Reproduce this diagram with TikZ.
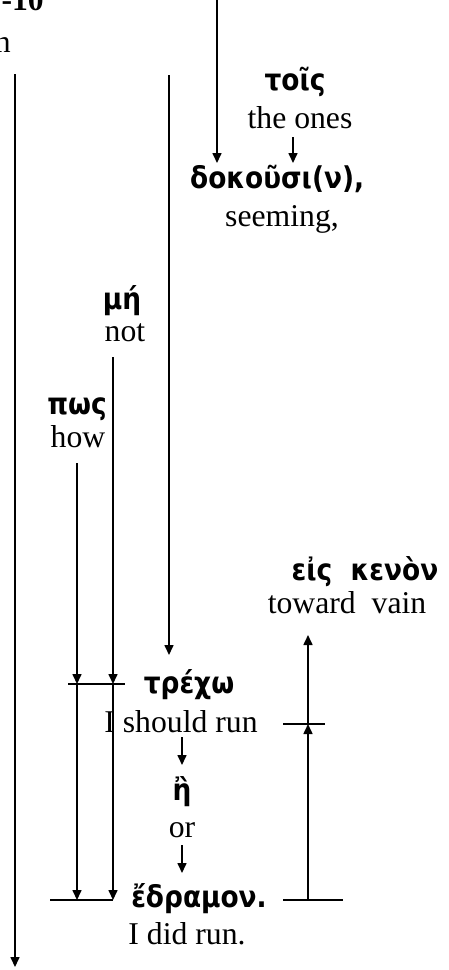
\documentclass[tikz,border=0pt]{standalone}
\usepackage{fontspec}
\setmainfont{Liberation Serif}
\newfontfamily\greekfont[FakeStretch=0.88]{DejaVu Sans}
\usetikzlibrary{arrows.meta,calc,positioning}

\tikzset{
    greek/.style={font=\greekfont\bfseries\fontsize{30}{34}\selectfont, anchor=base, inner sep=0pt},
    gloss/.style={font=\fontsize{31.7}{36}\selectfont, anchor=base, inner sep=0pt},
    arr/.style={-{Triangle[length=10pt,width=9pt]}, line width=1.6pt},
    bar/.style={line width=1.6pt},
}

\begin{document}
\begin{tikzpicture}[x=1pt,y=-1pt]
    \useasboundingbox (0,0) rectangle (449,970);

    % verse reference, cut at the top left
    \node[gloss,anchor=base east] (ref) at (44,10) {\bfseries -10};
    \node[gloss,anchor=base east] (refN) at (11,52) {n};

    % words
    \node[greek] (tois) at (295,90) {τοῖς};
    \node[gloss] (toisG) at (300,128) {the ones};
    \node[greek,anchor=base west] (dokousi) at (190,188) {δοκοῦσι(ν),};
    \node[gloss] (dokousiG) at (282,226) {seeming,};
    \node[greek] (mh) at (122,309) {μή};
    \node[gloss] (mhG) at (125,341) {not};
    \node[greek] (pws) at (77,414) {πως};
    \node[gloss] (pwsG) at (78,447) {how};
    \node[greek] (eis) at (365,580) {εἰς\ \ κενὸν};
    \node[gloss] (eisG) at (347,613) {toward\ \ vain};
    \node[greek] (trecho) at (189,693) {τρέχω};
    \node[gloss] (trechoG) at (181,732) {I should run};
    \node[greek] (eta) at (182,800) {ἢ};
    \node[gloss] (etaG) at (182,837) {or};
    \node[greek] (edramon) at (199,907) {ἔδραμον.};
    \node[gloss] (edramonG) at (187,944) {I did run.};

    % line ends
    \coordinate (topIn) at (217,0);
    \coordinate (dokIn) at (217,163);
    \coordinate (toisOut) at (293,137);
    \coordinate (toisIn) at (293,163);
    \coordinate (longTop) at (169,75);
    \coordinate (trechoIn) at (169,655);
    \coordinate (leftTop) at (15,74);
    \coordinate (leftEnd) at (15,967);
    \coordinate (mhTop) at (113,357);
    \coordinate (pwsTop) at (77,463);
    \coordinate (runOut) at (182,737);
    \coordinate (etaIn) at (182,765);
    \coordinate (orOut) at (182,845);
    \coordinate (edIn) at (182,873);

    \pgfmathsetmacro{\yTr}{684}
    \pgfmathsetmacro{\yEd}{900}
    \pgfmathsetmacro{\yRun}{724}
    \pgfmathsetmacro{\xEis}{308}

    \draw[arr] (topIn) -- (dokIn);
    \draw[arr] (toisOut) -- (toisIn);
    \draw[arr] (longTop) -- (trechoIn);
    \draw[arr] (leftTop) -- (leftEnd);
    \draw[arr] (runOut) -- (etaIn);
    \draw[arr] (orOut) -- (edIn);

    % bars at tre'cho and e'dramon
    \draw[bar] (68,\yTr) coordinate (trL) -- (125,\yTr) coordinate (trR);
    \draw[bar] (50,\yEd) coordinate (edL) -- (113,\yEd) coordinate (edR);
    \draw[bar] (283,\yEd) coordinate (eisL) -- (343,\yEd) coordinate (eisR);
    \draw[bar] (283,\yRun) -- (325,\yRun);

    \draw[arr] (mhTop) -- (113,\yTr);
    \draw[arr] (113,\yTr) -- (113,\yEd);
    \draw[arr] (pwsTop) -- (77,\yTr);
    \draw[arr] (77,\yTr) -- (77,\yEd);

    \draw[arr] (\xEis,\yEd) -- (\xEis,\yRun);
    \draw[arr] (\xEis,\yRun) -- (\xEis,635);
\end{tikzpicture}
\end{document}
